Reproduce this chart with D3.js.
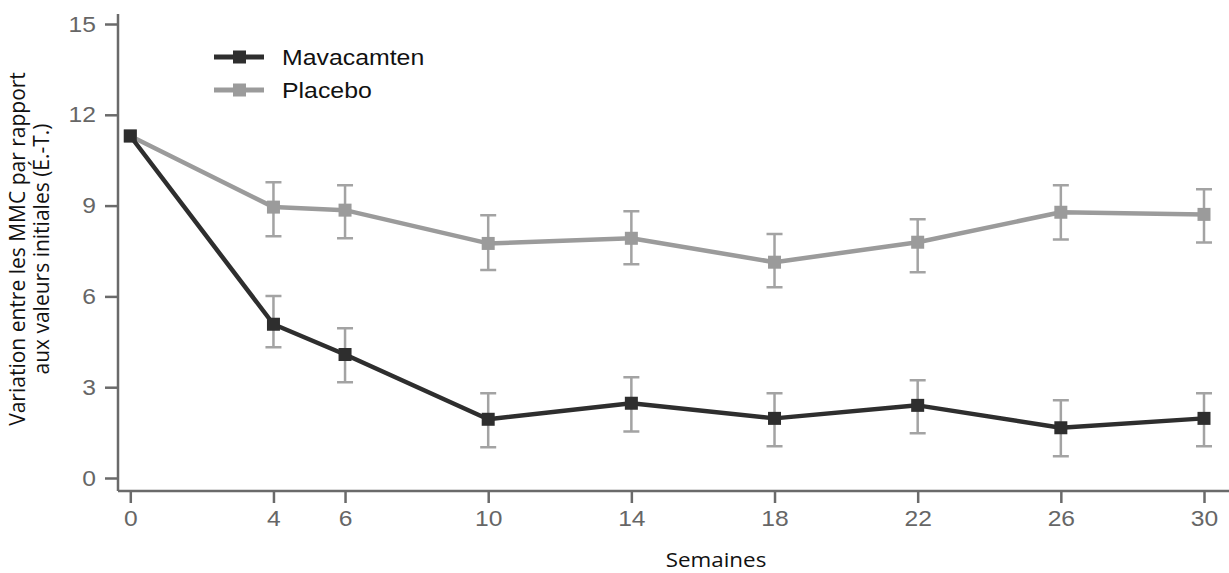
<!DOCTYPE html>
<html><head><meta charset="utf-8">
<script src="https://cdn.jsdelivr.net/npm/d3@7"></script>
<style>
html,body{margin:0;padding:0;background:#fff;}
svg{display:block;}
.sx{transform-box:fill-box;transform-origin:center;transform:scaleX(1.12);}
.sxr{transform-box:fill-box;transform-origin:right center;transform:scaleX(1.12);}
.sxl{transform-box:fill-box;transform-origin:left center;transform:scaleX(1.13);}
</style></head>
<body>
<svg id="c" width="1229" height="573"></svg>
<script>
const weeks = [0, 4, 6, 10, 14, 18, 22, 26, 30];
const mavaMean = [11.3, 5.08, 4.08, 1.94, 2.47, 1.97, 2.40, 1.66, 1.97];
const mavaLow  = [null, 4.32, 3.16, 1.02, 1.54, 1.05, 1.48, 0.72, 1.05];
const mavaHigh = [null, 6.01, 4.95, 2.80, 3.33, 2.80, 3.23, 2.57, 2.80];
const placMean = [11.3, 8.95, 8.85, 7.75, 7.92, 7.13, 7.79, 8.78, 8.71];
const placLow  = [null, 7.99, 7.92, 6.87, 7.06, 6.30, 6.80, 7.88, 7.78];
const placHigh = [null, 9.77, 9.67, 8.68, 8.81, 8.06, 8.55, 9.67, 9.54];
const yTicks = [0, 3, 6, 9, 12, 15];
const seriesNames = ["Mavacamten", "Placebo"];
const seriesColors = ["#2e2e2e", "#9b9b9b"];
const errColor = "#a3a3a3";
const axisColor = "#6a6a6a";

const svg = d3.select("#c");
const x = d3.scaleLinear().domain([0, 30]).range([130.3, 1204]);
const y = d3.scaleLinear().domain([0, 15]).range([478, 24]);
const axisX0 = 118, axisY0 = 491;

// X axis
const gx = svg.append("g").attr("transform", `translate(0,${axisY0})`)
  .call(d3.axisBottom(x).tickValues(weeks).tickSize(12).tickSizeOuter(0).tickPadding(7));
gx.select(".domain").attr("d", `M${axisX0},0H1229`);
// Y axis
const gy = svg.append("g").attr("transform", `translate(${axisX0},0)`)
  .call(d3.axisLeft(y).tickValues(yTicks).tickSize(13).tickSizeOuter(0).tickPadding(9));
gy.select(".domain").attr("d", `M0,${y(15)-10}V${axisY0}`);
[gx, gy].forEach(g => {
  g.selectAll(".domain").attr("stroke", axisColor).attr("stroke-width", 2.5);
  g.selectAll(".tick line").attr("stroke", axisColor).attr("stroke-width", 2.5);
  g.selectAll(".tick text").attr("fill", "#666").attr("font-family", "Liberation Sans, Arial, sans-serif").attr("font-size", 22);
});
gx.selectAll(".tick text").attr("class", "sx").attr("dy", "0.71em");
gy.selectAll(".tick text").attr("class", "sxr");

// axis titles
const yt = svg.append("text").attr("transform", "translate(25,249) rotate(-90)")
  .attr("text-anchor", "middle").attr("font-family", "Open Sans, Noto Sans, sans-serif")
  .attr("font-size", 21).attr("fill", "#111");
yt.append("tspan").attr("x", 0).attr("dy", 0).text("Variation entre les MMC par rapport");
yt.append("tspan").attr("x", 0).attr("dy", 24).text("aux valeurs initiales (É.-T.)");
svg.append("text").attr("class", "sx").attr("x", 716).attr("y", 567).attr("text-anchor", "middle")
  .attr("font-family", "Open Sans, Noto Sans, sans-serif").attr("font-size", 20).attr("fill", "#111")
  .text("Semaines");

const series = [
  {mean: mavaMean, low: mavaLow, high: mavaHigh},
  {mean: placMean, low: placLow, high: placHigh}
];
const line = d3.line().x(d => x(d.w)).y(d => y(d.v));
const capW = 8;
// error bars
series.forEach(s => {
  const pts = weeks.map((w, i) => ({w, lo: s.low[i], hi: s.high[i]})).filter(p => p.lo != null);
  const g = svg.append("g").attr("stroke", errColor).attr("stroke-width", 2.5).attr("fill", "none");
  g.selectAll("path").data(pts).join("path")
    .attr("d", p => `M${x(p.w)},${y(p.lo)}V${y(p.hi)}M${x(p.w)-capW},${y(p.lo)}H${x(p.w)+capW}M${x(p.w)-capW},${y(p.hi)}H${x(p.w)+capW}`);
});
// lines & markers (placebo first, mavacamten on top)
[1, 0].forEach(k => {
  const s = series[k];
  const pts = weeks.map((w, i) => ({w, v: s.mean[i]}));
  svg.append("path").datum(pts).attr("d", line).attr("fill", "none")
    .attr("stroke", seriesColors[k]).attr("stroke-width", 4.5).attr("stroke-linejoin", "round");
  svg.append("g").selectAll("rect").data(pts).join("rect")
    .attr("x", d => x(d.w) - 6.5).attr("y", d => y(d.v) - 6.5)
    .attr("width", 13).attr("height", 13).attr("fill", seriesColors[k]);
});

// legend
const lg = svg.append("g");
seriesNames.forEach((n, i) => {
  const cy = 57 + i * 33;
  lg.append("line").attr("x1", 214).attr("x2", 264).attr("y1", cy).attr("y2", cy)
    .attr("stroke", seriesColors[i]).attr("stroke-width", 5);
  lg.append("rect").attr("x", 233).attr("y", cy - 6.5).attr("width", 13).attr("height", 13).attr("fill", seriesColors[i]);
  lg.append("text").attr("class", "sxl").attr("x", 282).attr("y", cy).attr("dy", "0.36em")
    .attr("font-family", "Liberation Sans, Arial, sans-serif").attr("font-size", 22).attr("fill", "#111").text(n);
});
</script>
</body></html>
